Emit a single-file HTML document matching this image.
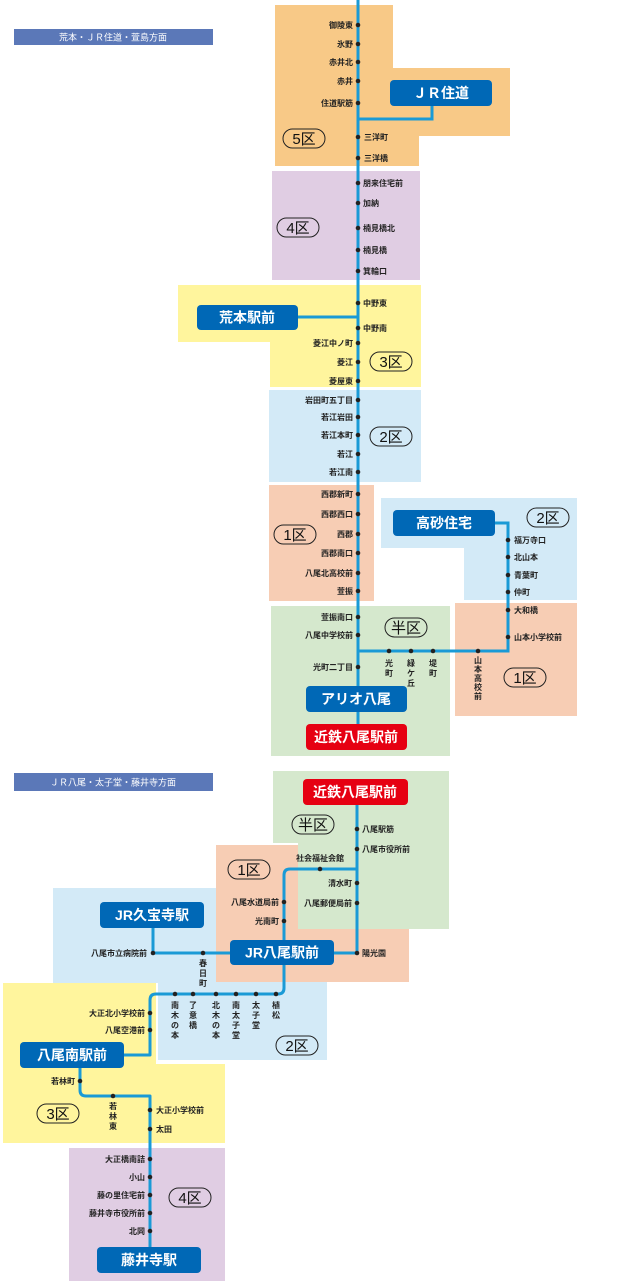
<!DOCTYPE html>
<html><head><meta charset="utf-8"><style>
html,body{margin:0;padding:0;background:#fff;}
svg{display:block;}
text{font-family:"Liberation Sans","Noto Sans CJK JP",sans-serif;}
.s{font-size:8px;font-weight:bold;fill:#222;}
.b{font-size:14px;font-weight:bold;fill:#fff;}
.o{font-size:15px;fill:#111;}
.h{font-size:9px;fill:#fff;}
</style></head><body>
<svg width="628" height="1285" viewBox="0 0 628 1285" xmlns="http://www.w3.org/2000/svg">
<!-- headers -->
<rect x="14" y="29" width="199" height="16" fill="#5b78b8"/>
<text class="h" x="113" y="40.5" text-anchor="middle">荒本・ＪＲ住道・萱島方面</text>
<rect x="14" y="773" width="199" height="18" fill="#5b78b8"/>
<text class="h" x="113" y="785.5" text-anchor="middle">ＪＲ八尾・太子堂・藤井寺方面</text>

<!-- TOP regions -->
<polygon points="275,5 393,5 393,68 510,68 510,136 419,136 419,166 275,166" fill="#f8c987"/>
<rect x="272" y="171" width="148" height="109" fill="#e0cde3"/>
<polygon points="178,285 421,285 421,387 270,387 270,342 178,342" fill="#fff59d"/>
<rect x="269" y="390" width="152" height="92" fill="#d3eaf7"/>
<rect x="269" y="485" width="105" height="116" fill="#f7cdb4"/>
<rect x="271" y="606" width="179" height="150" fill="#d5e8cd"/>
<polygon points="381,498 577,498 577,600 464,600 464,548 381,548" fill="#d3eaf7"/>
<rect x="455" y="603" width="122" height="113" fill="#f7cdb4"/>

<!-- TOP lines -->
<g stroke="#1a9ad6" stroke-width="3" fill="none">
<line x1="358" y1="0" x2="358" y2="724"/>
<polyline points="432,100 432,119 358,119"/>
<line x1="298" y1="317" x2="358" y2="317"/>
<polyline points="358,651 508,651 508,523 495,523"/>
</g>
<!-- top boxes -->
<rect x="390" y="80" width="102" height="26" rx="4" fill="#0068b6"/>
<text class="b" x="441" y="98" text-anchor="middle">ＪＲ住道</text>
<rect x="197" y="305" width="101" height="25" rx="4" fill="#0068b6"/>
<text class="b" x="247" y="322.5" text-anchor="middle">荒本駅前</text>
<rect x="393" y="510" width="102" height="26" rx="4" fill="#0068b6"/>
<text class="b" x="444" y="528" text-anchor="middle">高砂住宅</text>
<rect x="306" y="686" width="101" height="26" rx="4" fill="#0068b6"/>
<text class="b" x="356" y="704" text-anchor="middle">アリオ八尾</text>
<rect x="306" y="724" width="101" height="26" rx="4" fill="#e60012"/>
<text class="b" x="356" y="742" text-anchor="middle">近鉄八尾駅前</text>

<!-- top ovals -->
<g fill="none" stroke="#222" stroke-width="1">
<rect x="283" y="129" width="42" height="19" rx="9.5"/>
<rect x="277" y="218" width="42" height="19" rx="9.5"/>
<rect x="370" y="352" width="42" height="19" rx="9.5"/>
<rect x="370" y="427" width="42" height="19" rx="9.5"/>
<rect x="274" y="525" width="42" height="19" rx="9.5"/>
<rect x="385" y="618" width="42" height="19" rx="9.5"/>
<rect x="527" y="508" width="42" height="19" rx="9.5"/>
<rect x="504" y="668" width="42" height="19" rx="9.5"/>
</g>
<g class="o" text-anchor="middle">
<text x="304" y="144">5区</text><text x="298" y="233">4区</text>
<text x="391" y="367">3区</text><text x="391" y="442">2区</text>
<text x="295" y="540">1区</text><text x="406" y="633">半区</text>
<text x="548" y="523">2区</text><text x="525" y="683">1区</text>
</g>

<!-- top dots -->
<g fill="#222">
<circle cx="358" cy="25" r="2.3"/><circle cx="358" cy="44" r="2.3"/><circle cx="358" cy="62" r="2.3"/><circle cx="358" cy="81" r="2.3"/><circle cx="358" cy="103" r="2.3"/><circle cx="358" cy="137" r="2.3"/><circle cx="358" cy="158" r="2.3"/>
<circle cx="358" cy="183" r="2.3"/><circle cx="358" cy="203" r="2.3"/><circle cx="358" cy="228" r="2.3"/><circle cx="358" cy="250" r="2.3"/><circle cx="358" cy="271" r="2.3"/>
<circle cx="358" cy="303" r="2.3"/><circle cx="358" cy="328" r="2.3"/><circle cx="358" cy="343" r="2.3"/><circle cx="358" cy="362" r="2.3"/><circle cx="358" cy="381" r="2.3"/>
<circle cx="358" cy="400" r="2.3"/><circle cx="358" cy="417" r="2.3"/><circle cx="358" cy="435" r="2.3"/><circle cx="358" cy="454" r="2.3"/><circle cx="358" cy="472" r="2.3"/>
<circle cx="358" cy="494" r="2.3"/><circle cx="358" cy="514" r="2.3"/><circle cx="358" cy="534" r="2.3"/><circle cx="358" cy="553" r="2.3"/><circle cx="358" cy="573" r="2.3"/><circle cx="358" cy="591" r="2.3"/>
<circle cx="358" cy="617" r="2.3"/><circle cx="358" cy="635" r="2.3"/><circle cx="358" cy="667" r="2.3"/>
<circle cx="389" cy="651" r="2.3"/><circle cx="411" cy="651" r="2.3"/><circle cx="433" cy="651" r="2.3"/><circle cx="478" cy="651" r="2.3"/>
<circle cx="508" cy="540" r="2.3"/><circle cx="508" cy="557" r="2.3"/><circle cx="508" cy="575" r="2.3"/><circle cx="508" cy="592" r="2.3"/><circle cx="508" cy="610" r="2.3"/><circle cx="508" cy="637" r="2.3"/>
</g>
<g class="s" text-anchor="end">
<text x="353" y="28">御陵東</text><text x="353" y="47">氷野</text><text x="353" y="65">赤井北</text><text x="353" y="84">赤井</text><text x="353" y="106">住道駅筋</text>
<text x="353" y="346">菱江中ノ町</text><text x="353" y="365">菱江</text><text x="353" y="384">菱屋東</text>
<text x="353" y="403">岩田町五丁目</text><text x="353" y="420">若江岩田</text><text x="353" y="438">若江本町</text><text x="353" y="457">若江</text><text x="353" y="475">若江南</text>
<text x="353" y="497">西郡新町</text><text x="353" y="517">西郡西口</text><text x="353" y="537">西郡</text><text x="353" y="556">西郡南口</text><text x="353" y="576">八尾北高校前</text><text x="353" y="594">萱振</text>
<text x="353" y="620">萱振南口</text><text x="353" y="638">八尾中学校前</text><text x="353" y="670">光町二丁目</text>
</g>
<g class="s">
<text x="364" y="140">三洋町</text><text x="364" y="161">三洋橋</text>
<text x="363" y="186">朋来住宅前</text><text x="363" y="206">加納</text><text x="363" y="231">楠見橋北</text><text x="363" y="253">楠見橋</text><text x="363" y="274">箕輪口</text>
<text x="363" y="306">中野東</text><text x="363" y="331">中野南</text>
<text x="514" y="543">福万寺口</text><text x="514" y="560">北山本</text><text x="514" y="578">青葉町</text><text x="514" y="595">仲町</text><text x="514" y="613">大和橋</text><text x="514" y="640">山本小学校前</text>
</g>
<g class="s" text-anchor="middle">
<text x="389" y="666">光</text><text x="389" y="676">町</text>
<text x="411" y="666">緑</text><text x="411" y="676">ケ</text><text x="411" y="686">丘</text>
<text x="433" y="666">堤</text><text x="433" y="676">町</text>
<text x="478" y="663">山</text><text x="478" y="672">本</text><text x="478" y="681">高</text><text x="478" y="690">校</text><text x="478" y="699">前</text>
</g>

<!-- BOTTOM regions -->
<rect x="216" y="845" width="193" height="137" fill="#f7cdb4"/>
<polygon points="273,771 449,771 449,929 298,929 298,843 273,843" fill="#d5e8cd"/>
<polygon points="53,888 216,888 216,982 327,982 327,1060 158,1060 158,983 53,983" fill="#d3eaf7"/>
<polygon points="3,983 156,983 156,1064 225,1064 225,1143 3,1143" fill="#fff59d"/>
<rect x="69" y="1148" width="156" height="133" fill="#e0cde3"/>

<g stroke="#1a9ad6" stroke-width="3" fill="none" stroke-linejoin="round">
<line x1="357" y1="805" x2="357" y2="953"/>
<line x1="334" y1="953" x2="357" y2="953"/>
<path d="M357 869 H290 Q284 869 284 875 V940"/>
<polyline points="153,928 153,953 230,953"/>
<path d="M284 965 V988 Q284 994 278 994 H156 Q150 994 150 1000 V1055 H124"/>
<path d="M80 1067 V1090 Q80 1096 86 1096 H150 V1247"/>
</g>
<rect x="303" y="779" width="105" height="26" rx="4" fill="#e60012"/>
<text class="b" x="355" y="797" text-anchor="middle">近鉄八尾駅前</text>
<rect x="100" y="902" width="104" height="26" rx="4" fill="#0068b6"/>
<text class="b" x="152" y="920" text-anchor="middle">JR久宝寺駅</text>
<rect x="230" y="940" width="104" height="25" rx="4" fill="#0068b6"/>
<text class="b" x="282" y="957.5" text-anchor="middle">JR八尾駅前</text>
<rect x="20" y="1042" width="104" height="26" rx="4" fill="#0068b6"/>
<text class="b" x="72" y="1060" text-anchor="middle">八尾南駅前</text>
<rect x="97" y="1247" width="104" height="26" rx="4" fill="#0068b6"/>
<text class="b" x="149" y="1265" text-anchor="middle">藤井寺駅</text>

<g fill="none" stroke="#222" stroke-width="1">
<rect x="292" y="815" width="42" height="19" rx="9.5"/>
<rect x="228" y="860" width="42" height="19" rx="9.5"/>
<rect x="276" y="1036" width="42" height="19" rx="9.5"/>
<rect x="37" y="1104" width="42" height="19" rx="9.5"/>
<rect x="169" y="1188" width="42" height="19" rx="9.5"/>
</g>
<g class="o" text-anchor="middle">
<text x="313" y="830">半区</text><text x="249" y="875">1区</text><text x="297" y="1051">2区</text>
<text x="58" y="1119">3区</text><text x="190" y="1203">4区</text>
</g>

<g fill="#222">
<circle cx="357" cy="829" r="2.3"/><circle cx="357" cy="849" r="2.3"/><circle cx="357" cy="883" r="2.3"/><circle cx="357" cy="903" r="2.3"/><circle cx="357" cy="953" r="2.3"/>
<circle cx="320" cy="869" r="2.3"/><circle cx="284" cy="902" r="2.3"/><circle cx="284" cy="921" r="2.3"/>
<circle cx="153" cy="953" r="2.3"/><circle cx="203" cy="953" r="2.3"/>
<circle cx="175" cy="994" r="2.3"/><circle cx="193" cy="994" r="2.3"/><circle cx="216" cy="994" r="2.3"/><circle cx="236" cy="994" r="2.3"/><circle cx="256" cy="994" r="2.3"/><circle cx="276" cy="994" r="2.3"/>
<circle cx="150" cy="1013" r="2.3"/><circle cx="150" cy="1030" r="2.3"/>
<circle cx="80" cy="1081" r="2.3"/><circle cx="113" cy="1096" r="2.3"/>
<circle cx="150" cy="1110" r="2.3"/><circle cx="150" cy="1129" r="2.3"/>
<circle cx="150" cy="1159" r="2.3"/><circle cx="150" cy="1177" r="2.3"/><circle cx="150" cy="1195" r="2.3"/><circle cx="150" cy="1213" r="2.3"/><circle cx="150" cy="1231" r="2.3"/>
</g>
<g class="s">
<text x="362" y="832">八尾駅筋</text><text x="362" y="852">八尾市役所前</text><text x="362" y="956">陽光園</text>
<text x="156" y="1113">大正小学校前</text><text x="156" y="1132">太田</text>
</g>
<g class="s" text-anchor="end">
<text x="352" y="886">清水町</text><text x="352" y="906">八尾郵便局前</text>
<text x="279" y="905">八尾水道局前</text><text x="279" y="924">光南町</text>
<text x="147" y="956">八尾市立病院前</text>
<text x="145" y="1016">大正北小学校前</text><text x="145" y="1033">八尾空港前</text>
<text x="75" y="1084">若林町</text>
<text x="145" y="1162">大正橋南詰</text><text x="145" y="1180">小山</text><text x="145" y="1198">藤の里住宅前</text><text x="145" y="1216">藤井寺市役所前</text><text x="145" y="1234">北岡</text>
</g>
<text class="s" x="320" y="861" text-anchor="middle">社会福祉会館</text>
<g class="s" text-anchor="middle">
<text x="203" y="966">春</text><text x="203" y="976">日</text><text x="203" y="986">町</text>
<text x="175" y="1008">南</text><text x="175" y="1018">木</text><text x="175" y="1028">の</text><text x="175" y="1038">本</text>
<text x="193" y="1008">了</text><text x="193" y="1018">意</text><text x="193" y="1028">橋</text>
<text x="216" y="1008">北</text><text x="216" y="1018">木</text><text x="216" y="1028">の</text><text x="216" y="1038">本</text>
<text x="236" y="1008">南</text><text x="236" y="1018">太</text><text x="236" y="1028">子</text><text x="236" y="1038">堂</text>
<text x="256" y="1008">太</text><text x="256" y="1018">子</text><text x="256" y="1028">堂</text>
<text x="276" y="1008">植</text><text x="276" y="1018">松</text>
<text x="113" y="1109">若</text><text x="113" y="1119">林</text><text x="113" y="1129">東</text>
</g>
</svg>
</body></html>
